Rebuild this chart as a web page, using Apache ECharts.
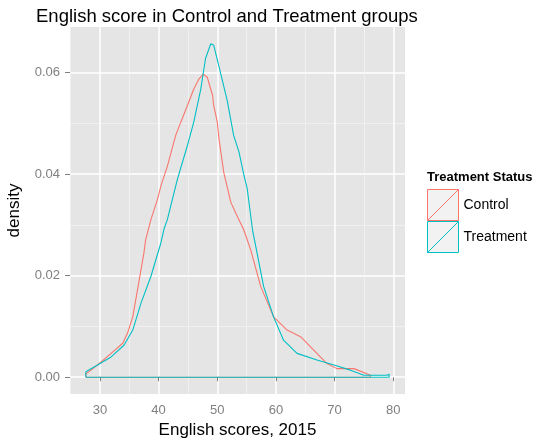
<!DOCTYPE html>
<html>
<head>
<meta charset="utf-8">
<script src="https://cdn.jsdelivr.net/npm/echarts@6/dist/echarts.min.js"></script>
<style>
html,body{margin:0;padding:0;background:#fff;}
#chart{width:543px;height:443px;}
</style>
</head>
<body>
<div id="chart"></div>
<script>
// ---- data ----
var groups = ['Control', 'Treatment'];
var groupColors = ['#F8766D', '#00BFC4'];

var controlX = [27.6, 28.5, 30.2, 31.9, 33.9, 34.7, 35.6, 36.7, 37.5, 37.8, 38.7, 39.8, 40.4, 41.5, 42.9, 43.8, 44.9, 46.0, 46.9, 47.6, 48.3, 49.2, 49.4, 50.0, 50.3, 51.1, 52.3, 53.4, 54.5, 55.7, 57.4, 59.6, 61.9, 64.2, 65.9, 68.7, 70.4, 73.3, 75.5, 76.1];
var controlY = [0.0007, 0.0014, 0.0030, 0.0047, 0.0067, 0.0087, 0.0119, 0.0192, 0.0245, 0.0271, 0.0311, 0.0350, 0.0377, 0.0416, 0.0476, 0.0503, 0.0535, 0.0568, 0.0588, 0.0597, 0.0591, 0.0555, 0.0535, 0.0503, 0.0469, 0.0404, 0.0345, 0.0317, 0.0291, 0.0251, 0.0179, 0.0119, 0.0093, 0.0080, 0.0060, 0.0027, 0.0017, 0.0017, 0.0007, 0.0004];

var treatmentX = [27.6, 29.6, 31.9, 34.1, 35.6, 37.0, 38.7, 40.4, 40.9, 41.5, 43.2, 44.9, 46.0, 47.2, 48.0, 48.9, 49.4, 50.3, 51.7, 52.8, 53.7, 54.5, 55.1, 56.0, 57.9, 59.6, 61.3, 63.6, 67.0, 69.9, 72.7, 75.0, 78.9, 79.3];
var treatmentY = [0.0011, 0.0024, 0.0040, 0.0063, 0.0093, 0.0146, 0.0199, 0.0265, 0.0291, 0.0311, 0.0390, 0.0456, 0.0503, 0.0568, 0.0628, 0.0657, 0.0654, 0.0612, 0.0545, 0.0476, 0.0444, 0.0400, 0.0372, 0.0291, 0.0179, 0.0119, 0.0073, 0.0047, 0.0034, 0.0024, 0.0014, 0.0004, 0.0004, 0.0006];

var xMajorTicks = [30, 40, 50, 60, 70, 80];
var xMinorTicks = [25, 35, 45, 55, 65, 75];
var yMajorTicks = [0, 0.02, 0.04, 0.06];
var yMinorTicks = [0.01, 0.03, 0.05];

var xRange = [24.9, 82.0];
var yRange = [-0.0033, 0.0690];

// closed density outline (polygon with baseline), as ggplot draws it
function outline(xs, ys) {
  var pts = [[xs[0], 0]];
  for (var i = 0; i < xs.length; i++) pts.push([xs[i], ys[i]]);
  pts.push([xs[xs.length - 1], 0]);
  pts.push([xs[0], 0]);
  return pts;
}

var FONT = 'Liberation Sans, Arial, sans-serif';
var chart = echarts.init(document.getElementById('chart'), null, {renderer: 'canvas'});

var keyPath = 'path://M0,0 L30,0 L30,30 L0,30 Z M0,30 L30,0';

var option = {
  backgroundColor: '#ffffff',
  animation: false,
  title: [
    {text: 'English score in Control and Treatment groups', left: 36, top: 7, padding: 0,
     textStyle: {fontFamily: FONT, fontSize: 18.5, fontWeight: 'normal', color: '#000'}},
    {text: 'Treatment Status', left: 427, top: 171, padding: 0,
     textStyle: {fontFamily: FONT, fontSize: 13, fontWeight: 'bold', color: '#000'}}
  ],
  legend: {
    orient: 'vertical', left: 427, top: 189, padding: 0,
    itemWidth: 31, itemHeight: 31, itemGap: 0,
    icon: keyPath,
    textStyle: {fontFamily: FONT, fontSize: 14, color: '#000', padding: [0, 0, 0, 0]},
    data: groups.map(function (g, i) {
      return {name: g, icon: keyPath,
        itemStyle: {color: '#f2f2f2', borderColor: groupColors[i], borderWidth: 1}};
    })
  },
  grid: {left: 70, right: 138, top: 27, bottom: 49, show: true,
         backgroundColor: '#e5e5e5', borderWidth: 0, containLabel: false, outerBoundsMode: 'none'},
  xAxis: [
    {type: 'value', min: xRange[0], max: xRange[1], position: 'bottom',
     name: 'English scores, 2015', nameLocation: 'middle', nameGap: 25,
     nameTextStyle: {fontFamily: FONT, fontSize: 17, color: '#000'},
     axisLine: {show: false},
     axisTick: {show: true, length: 4, customValues: xMajorTicks, lineStyle: {color: '#7f7f7f', width: 1}},
     axisLabel: {show: true, customValues: xMajorTicks, margin: 10, fontFamily: FONT, fontSize: 13, color: '#7f7f7f'},
     splitLine: {show: true, lineStyle: {color: '#ffffff', width: 1.5}}},
    {type: 'value', min: xRange[0], max: xRange[1], position: 'bottom',
     axisLine: {show: false},
     axisTick: {show: false, customValues: xMinorTicks},
     axisLabel: {show: false, customValues: xMinorTicks},
     splitLine: {show: true, lineStyle: {color: '#f2f2f2', width: 0.8}}}
  ],
  yAxis: [
    {type: 'value', min: yRange[0], max: yRange[1],
     name: 'density', nameLocation: 'middle', nameGap: 47, nameRotate: 90,
     nameTextStyle: {fontFamily: FONT, fontSize: 17, color: '#000'},
     axisLine: {show: false},
     axisTick: {show: true, length: 5, customValues: yMajorTicks, lineStyle: {color: '#7f7f7f', width: 1}},
     axisLabel: {show: true, customValues: yMajorTicks, margin: 10, fontFamily: FONT, fontSize: 13, color: '#7f7f7f',
                 formatter: function (v) { return v.toFixed(2); }},
     splitLine: {show: true, lineStyle: {color: '#ffffff', width: 1.5}}},
    {type: 'value', min: yRange[0], max: yRange[1],
     axisLine: {show: false},
     axisTick: {show: false, customValues: yMinorTicks},
     axisLabel: {show: false, customValues: yMinorTicks},
     splitLine: {show: true, lineStyle: {color: '#f2f2f2', width: 0.8}}}
  ],
  series: [
    {name: groups[0], type: 'line', xAxisIndex: 0, yAxisIndex: 0, showSymbol: false, symbol: 'none',
     data: outline(controlX, controlY), lineStyle: {color: groupColors[0], width: 1.1}, itemStyle: {color: groupColors[0]}, z: 3},
    {name: groups[1], type: 'line', xAxisIndex: 0, yAxisIndex: 0, showSymbol: false, symbol: 'none',
     data: outline(treatmentX, treatmentY), lineStyle: {color: groupColors[1], width: 1.1}, itemStyle: {color: groupColors[1]}, z: 4}
  ]
};
chart.setOption(option);
</script>
</body>
</html>
